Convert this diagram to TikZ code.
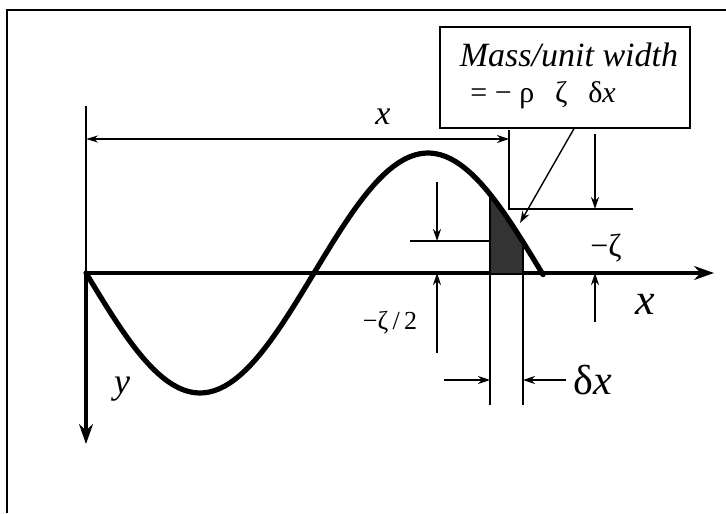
\documentclass[tikz,border=0pt]{standalone}
\usepackage{fontspec}
\setmainfont{Liberation Serif}
\usetikzlibrary{arrows.meta,calc}

\begin{document}
\begin{tikzpicture}[x=0.5pt, y=-0.5pt,
  axisline/.style={line width=1.6pt, -{Stealth[length=10pt,width=7pt]}},
  waveline/.style={line width=2.6pt, line join=round, line cap=round},
  thinline/.style={line width=0.7pt},
  dimarrow/.style={line width=0.7pt, -{Stealth[length=6pt,width=4pt]}},
  dimboth/.style={line width=0.7pt, {Stealth[length=6pt,width=3.5pt]}-{Stealth[length=6pt,width=4pt]}},
  lbl/.style={inner sep=1pt},
]

% --- PARAMETERS ---
\def\xO{86}     % origin x (px)
\def\yO{273}    % origin y (px, downward)
\def\amp{120}   % wave amplitude
\def\lam{456}   % wavelength
\def\xa{490}    % strip left
\def\xb{523}    % strip right
\def\kw{0.78947} % 360/\lam

\useasboundingbox (0,0) rectangle (726,513);

% --- FRAME ---
\draw[line width=0.8pt] (7,513) -- (7,10) -- (726,10);

% --- AXES ---
\coordinate (O) at (\xO,\yO);
\coordinate (xend) at (714,\yO);
\coordinate (yend) at (\xO,444);
\draw[axisline] (O) -- (xend);
\draw[axisline] (O) -- (yend);
\node[lbl, font=\fontsize{22}{24}\selectfont\itshape] (xlab) at (645,304) {x};
\node[lbl, font=\fontsize{18}{20}\selectfont\itshape] (ylab) at (122,389) {y};

% --- STRIP (shaded element) ---
\fill[black!80] (\xa,\yO)
  -- plot[domain=\xa:\xb, samples=12] (\x, {\yO+\amp*sin(\kw*(\x-\xO))})
  -- (\xb,\yO) -- cycle;

% --- WAVE ---
\draw[waveline] plot[domain=\xO:543, samples=90]
  (\x, {\yO+\amp*sin(\kw*(\x-\xO))});

% --- STRIP EDGES ---
\coordinate (sLtop) at (\xa,{\yO+\amp*sin(\kw*(\xa-\xO))});
\coordinate (sRtop) at (\xb,{\yO+\amp*sin(\kw*(\xb-\xO))});
\coordinate (sLbot) at (\xa,405);
\coordinate (sRbot) at (\xb,405);
\draw[line width=1pt] (sLtop) -- (sLbot);
\draw[line width=1pt] (sRtop) -- (sRbot);

% --- DIMENSION x ---
\coordinate (extL) at (\xO,106);
\coordinate (dimL) at (\xO,139);
\coordinate (dimR) at (509,139);
\coordinate (extRtop) at (509,130);
\coordinate (extRknee) at (509,209);
\coordinate (extRend) at (633,209);
\draw[thinline] (extL) -- (O);
\draw[dimboth] (dimL) -- (dimR);
\draw[thinline] (extRtop) -- (extRknee) -- (extRend);
\node[lbl, font=\fontsize{17}{19}\selectfont\itshape] (dimlab) at (383,117) {x};

% --- LEVEL -zeta ---
\coordinate (zA) at (595,134);
\coordinate (zB) at (595,209);
\coordinate (zC) at (595,322);
\coordinate (zD) at (595,\yO);
\draw[dimarrow] (zA) -- (zB);
\draw[dimarrow] (zC) -- (zD);
\node[lbl, font=\fontsize{16}{18}\selectfont] (zetalab) at (606,248) {−ζ};

% --- LEVEL -zeta/2 ---
\coordinate (hL) at (410,241);
\coordinate (hR) at (\xa,241);
\coordinate (hA) at (437,182);
\coordinate (hB) at (437,241);
\coordinate (hC) at (437,353);
\coordinate (hD) at (437,\yO);
\draw[thinline] (hL) -- (hR);
\draw[dimarrow] (hA) -- (hB);
\draw[dimarrow] (hC) -- (hD);
\node[lbl, font=\fontsize{13}{15}\selectfont] (halflab) at (390,323) {−ζ\,/\,2};

% --- WIDTH delta x ---
\coordinate (dA) at (444,380);
\coordinate (dB) at (\xa,380);
\coordinate (dC) at (566,380);
\coordinate (dD) at (\xb,380);
\draw[dimarrow] (dA) -- (dB);
\draw[dimarrow] (dC) -- (dD);
\node[lbl, font=\fontsize{21}{23}\selectfont, anchor=west] (dxlab) at (571,380) {δ\textit{x}};

% --- LABEL BOX ---
\node[draw, line width=0.6pt, minimum width=125pt, minimum height=50.5pt, inner sep=0pt]
  (massbox) at (565,77.5) {};
\node[lbl, font=\fontsize{17}{19}\selectfont\itshape] (masstxt) at (569,55) {Mass/unit width};
\node[lbl, font=\fontsize{15}{17}\selectfont, anchor=west] (eqtxt) at (468,95) {= − ρ\;\, ζ\;\, δ\textit{x}};
\coordinate (tip) at (520,223);
\draw[dimarrow] ($(massbox.south)+(9,0)$) -- (tip);

\end{tikzpicture}
\end{document}
